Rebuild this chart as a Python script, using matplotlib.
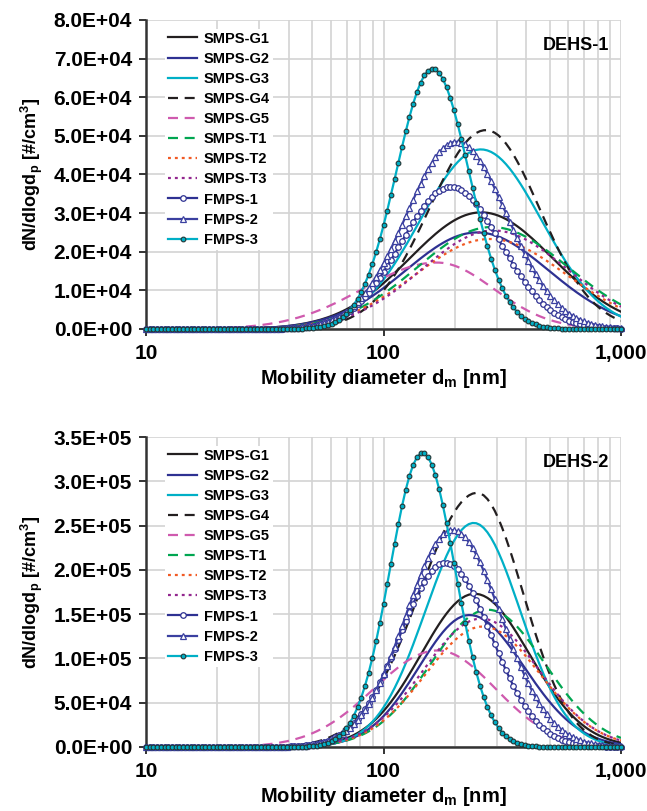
import numpy as np
import matplotlib
matplotlib.use('Agg')
import matplotlib.pyplot as plt
from matplotlib.ticker import FuncFormatter, MultipleLocator, NullFormatter

plt.rcParams['font.family'] = ['Liberation Sans', 'DejaVu Sans']
plt.rcParams['font.weight'] = 'bold'
plt.rcParams['mathtext.fontset'] = 'custom'
plt.rcParams['mathtext.rm'] = 'Liberation Sans:bold'
plt.rcParams['mathtext.bf'] = 'Liberation Sans:bold'
plt.rcParams['mathtext.it'] = 'Liberation Sans:bold:italic'

# lognormal fits: peak height, mode diameter [nm],
# geometric std dev below / above the mode
labels = ['SMPS-G1', 'SMPS-G2', 'SMPS-G3', 'SMPS-G4', 'SMPS-G5',
          'SMPS-T1', 'SMPS-T2', 'SMPS-T3', 'FMPS-1', 'FMPS-2', 'FMPS-3']

dehs1_peak = [3.02e4, 2.50e4, 4.65e4, 5.15e4, 1.72e4, 2.64e4, 2.33e4, 2.55e4, 3.68e4, 4.85e4, 6.74e4]
dehs1_mode = [258, 248, 257, 270, 168, 285, 280, 290, 192, 203, 161]
dehs1_gsd_lo = [2.00, 2.00, 1.80, 1.73, 2.05, 2.05, 2.05, 2.00, 1.62, 1.63, 1.42]
dehs1_gsd_hi = [2.00, 2.00, 1.80, 1.68, 1.73, 2.10, 2.10, 2.05, 1.62, 1.63, 1.42]

dehs2_peak = [1.73e5, 1.49e5, 2.53e5, 2.87e5, 1.09e5, 1.55e5, 1.36e5, 1.45e5, 2.08e5, 2.45e5, 3.32e5]
dehs2_mode = [242, 230, 240, 248, 169, 275, 262, 258, 182, 195, 146]
dehs2_gsd_lo = [1.68, 1.63, 1.60, 1.75, 1.85, 1.74, 1.74, 1.74, 1.55, 1.57, 1.37]
dehs2_gsd_hi = [1.70, 1.70, 1.57, 1.56, 1.75, 1.74, 1.74, 1.74, 1.56, 1.60, 1.37]

# 64 channels per decade
dm = np.logspace(1, 3, 129)

navy = '#2e3192'
teal = '#00afc6'
styles = [
    dict(color='#231f20', ls='-'),
    dict(color=navy, ls='-'),
    dict(color=teal, ls='-'),
    dict(color='#231f20', ls=(0, (4.5, 3))),
    dict(color='#cf5aae', ls=(0, (4.5, 3))),
    dict(color='#00a651', ls=(0, (4.5, 3))),
    dict(color='#f15a24', ls=(0, (1.3, 1.8))),
    dict(color='#92278f', ls=(0, (1.3, 1.8))),
    dict(color=navy, ls='-', marker='o', ms=4.0, mfc='white', mec=navy, mew=0.9),
    dict(color='#3b40a0', ls='-', marker='^', ms=4.0, mfc='white', mec='#3b40a0', mew=0.9),
    dict(color=teal, ls='-', marker='o', ms=3.4, mfc=teal, mec='#233535', mew=0.8),
]


def lognorm(peak, mode, s_lo, s_hi):
    s = np.where(dm < mode, np.log(s_lo), np.log(s_hi))
    return peak * np.exp(-np.log(dm / mode) ** 2 / (2 * s ** 2))


def panel(ax, peak, mode, gsd_lo, gsd_hi, ymax, ystep, name):
    for i in range(len(labels)):
        y = lognorm(peak[i], mode[i], gsd_lo[i], gsd_hi[i])
        st = dict(styles[i])
        ax.plot(dm, y, lw=1.6, label=labels[i], clip_on='marker' not in st,
                zorder=3 + i, **st)
    ax.set_xscale('log')
    ax.set_xlim(10, 1000)
    ax.set_ylim(0, ymax)
    ax.yaxis.set_major_locator(MultipleLocator(ystep))
    ax.yaxis.set_major_formatter(FuncFormatter(lambda v, p: '%.1E' % v))
    ax.xaxis.set_major_formatter(FuncFormatter(lambda v, p: '{:,}'.format(int(round(v)))))
    ax.xaxis.set_minor_formatter(NullFormatter())
    ax.grid(True, which='both', axis='x', color='#d3d3d3', lw=1.2, zorder=0)
    ax.grid(True, which='major', axis='y', color='#d3d3d3', lw=1.2, zorder=0)
    ax.set_axisbelow(True)
    for s in ['top', 'right']:
        ax.spines[s].set_visible(False)
    for s in ['left', 'bottom']:
        ax.spines[s].set_color('#333333')
        ax.spines[s].set_linewidth(1.8)
        ax.spines[s].set_zorder(2)
    ax.tick_params(which='major', direction='out', length=5, width=1.4,
                   color='#333333', labelsize=15)
    ax.tick_params(axis='x', which='major', pad=6)
    ax.tick_params(axis='y', which='major', pad=5)
    ax.tick_params(which='minor', length=0)
    ax.set_xlabel(r'Mobility diameter d$_\mathrm{m}$ [nm]', fontsize=14.5,
                  fontweight='bold', labelpad=3)
    ax.set_ylabel(r'dN/dlogd$_\mathrm{p}$ [#/cm$^\mathrm{3}$]', fontsize=13,
                  fontweight='bold', labelpad=6)
    leg = ax.legend(loc='upper left', bbox_to_anchor=(0.040, 0.972), borderaxespad=0,
                    frameon=True, fontsize=10.5, handlelength=2.0, handletextpad=0.45,
                    labelspacing=0.42, borderpad=0.2)
    leg.get_frame().set_edgecolor('none')
    leg.get_frame().set_facecolor('white')
    leg.get_frame().set_alpha(1)
    leg.set_zorder(20)
    ax.text(0.975, 0.918, name, transform=ax.transAxes, ha='right', va='center',
            fontsize=13, fontweight='bold')


fig = plt.figure(figsize=(6.47, 8.11), dpi=100)
ax1 = fig.add_axes([146 / 647, 1 - 329 / 811, 475 / 647, 309 / 811])
ax2 = fig.add_axes([146 / 647, 1 - 747 / 811, 475 / 647, 310 / 811])

panel(ax1, dehs1_peak, dehs1_mode, dehs1_gsd_lo, dehs1_gsd_hi, 8e4, 1e4, 'DEHS-1')
panel(ax2, dehs2_peak, dehs2_mode, dehs2_gsd_lo, dehs2_gsd_hi, 3.5e5, 5e4, 'DEHS-2')

fig.savefig('out.png', dpi=100)
